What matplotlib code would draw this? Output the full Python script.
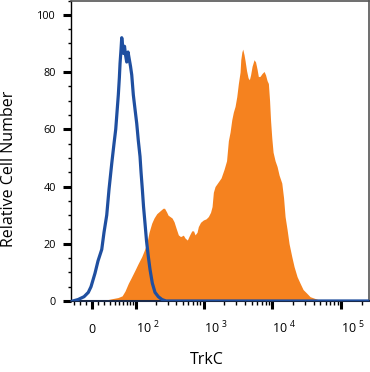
import numpy as np
import matplotlib
matplotlib.use("Agg")
import matplotlib.pyplot as plt
from matplotlib.ticker import FixedLocator

plt.rcParams['font.family'] = ['Open Sans', 'DejaVu Sans']
plt.rcParams['mathtext.fontset'] = 'custom'
plt.rcParams['mathtext.rm'] = 'Open Sans'
plt.rcParams['mathtext.it'] = 'Open Sans'

# ---- data (fluorescence intensity, relative cell number) ----
orange_x = [6.4, 21.6, 34.6, 47.2, 57.0, 64.5, 73.8, 82.0, 95.5, 106.8, 122.1, 132.6, 145.9,
            158.1, 173.7, 188.1, 206.5, 231.2, 256.1, 269.5, 290.4, 303.6, 324.8, 347.5, 371.8,
            397.7, 429.8, 462.8, 508.5, 538.4, 581.6, 626.2, 674.3, 716.1, 753, 805, 841, 906,
            994, 1089, 1176, 1266, 1332, 1391, 1472, 1628, 1800, 1990, 2163, 2298, 2432, 2575,
            2716, 2876, 3044, 3212, 3400, 3480, 3610, 3720, 3886, 4018, 4224, 4442, 4639, 4831,
            5079, 5431, 5710, 6005, 6271, 6638, 7099, 7591, 7982, 8392, 8767, 9126, 9436, 9823,
            10260, 10970, 11730, 12540, 13730, 14580, 15330, 16390, 17530, 19190, 20720, 22910,
            25330, 28000, 31700, 35400, 40460, 46270, 52900]
orange_y = [0, 0.3, 0.8, 1.2, 1.8, 3.5, 6.2, 8, 10.8, 13, 15.5, 17.5, 20, 24, 27.2, 29, 30.5,
            31.5, 32.4, 32.4, 31, 30, 29.5, 29, 27.7, 25.5, 23.1, 22.5, 23, 22, 21.3, 23, 24.5,
            24.5, 23.1, 24, 26, 27.5, 28.3, 28.7, 29.5, 31, 33, 38, 40, 41.5, 43, 46, 49, 56, 59,
            63.3, 66, 68, 71.4, 76, 80, 84.3, 87, 88, 86, 84, 80.5, 78, 77.3, 79, 82, 84.3, 83.5,
            81, 78.4, 78.5, 79.5, 80.2, 79, 77, 76, 70, 63, 57, 52, 49, 47, 44, 41.2, 36, 29.5,
            25, 20, 15.5, 12, 8.5, 6.2, 4, 2.7, 1.5, 1, 0.5, 0]

blue_x = [-33.2, -23.3, -13.0, -6.0, -1.6, 4.8, 9.7, 15.9, 19.8, 24.6, 28.8, 34.0, 38.6, 42.2,
          45.0, 47.9, 50.3, 51.9, 54.3, 56.0, 58.5, 60.5, 63.1, 65.8, 69.1, 72.9, 75.8, 80.4,
          84.3, 89.6, 95.5, 101.8, 107.9, 114.8, 119.1, 124.8, 130.2, 137.4, 144.8, 154.3,
          163.7, 177.4, 194.7, 218.1, 247.5, 283.6, 250000]
blue_y = [0, 0.5, 1.5, 3, 5, 9.7, 14, 18, 24, 30, 39, 48, 55, 60, 66, 72, 78, 83, 88, 92, 89,
          86.5, 89, 86, 83.5, 87, 85, 82, 79, 72, 67, 62, 56, 50.5, 45, 39, 33, 27, 21, 15.5,
          11, 6.2, 3, 1.5, 0.5, 0, 0]

x_major = [0, 1e2, 1e3, 1e4, 1e5]
x_major_labels = ['0', r'$\mathregular{10^{\ 2}}$', r'$\mathregular{10^{\ 3}}$',
                  r'$\mathregular{10^{\ 4}}$', r'$\mathregular{10^{\ 5}}$']
x_minor = [-30, -20, -10, 10, 20, 30, 40, 50, 60, 70, 80, 90,
           200, 300, 400, 500, 600, 700, 800, 900,
           2000, 3000, 4000, 5000, 6000, 7000, 8000, 9000,
           20000, 30000, 40000, 50000, 60000, 70000, 80000, 90000, 200000]
y_major = [0, 20, 40, 60, 80, 100]
y_minor = [5, 10, 15, 25, 30, 35, 45, 50, 55, 65, 70, 75, 85, 90, 95, 105]

ORANGE = '#F5821F'
BLUE = '#1F4FA0'

W = 48.0
def fwd(x):
    return np.arcsinh(np.asarray(x, dtype=float) / W) / np.log(10)
def inv(y):
    return W * np.sinh(np.asarray(y, dtype=float) * np.log(10))

fig = plt.figure(figsize=(3.70, 3.72), dpi=100)
ax = fig.add_axes([71/370, 71/372, 298/370, 300.5/372])
ax.set_xscale('function', functions=(fwd, inv))

ax.fill_between(orange_x, orange_y, 0, color=ORANGE, lw=0, zorder=2)
ax.plot(blue_x, blue_y, color=BLUE, lw=2.3, zorder=3, solid_joinstyle='round')

ax.set_xlim(-36.6, 2.54e5)
ax.set_ylim(0, 105)

ax.xaxis.set_major_locator(FixedLocator(x_major))
ax.xaxis.set_minor_locator(FixedLocator(x_minor))
ax.set_xticklabels(x_major_labels)
ax.yaxis.set_major_locator(FixedLocator(y_major))
ax.yaxis.set_minor_locator(FixedLocator(y_minor))
ax.set_yticklabels([str(v) for v in y_major])

ax.tick_params(axis='y', which='major', direction='out', length=5.5, width=2.2,
               labelsize=7.8, pad=5.5, color='black')
ax.tick_params(axis='y', which='minor', direction='out', length=2.5, width=1.0, color='black')
ax.tick_params(axis='x', which='major', direction='out', length=6, width=2.2,
               labelsize=9, pad=17, color='black')
ax.tick_params(axis='x', which='minor', direction='out', length=3, width=1.0, color='black')

for t in ax.xaxis.get_major_ticks():
    t.label1.set_verticalalignment('baseline')
for t, lab in zip(ax.xaxis.get_major_ticks(), x_major_labels):
    if lab != '0':
        t.label1.set_horizontalalignment('left')

for side in ['top', 'right']:
    ax.spines[side].set_color('#555555')
    ax.spines[side].set_linewidth(1.2)
ax.spines['left'].set_color('black')
ax.spines['left'].set_linewidth(1.0)
ax.spines['bottom'].set_color('#1a2a4a')
ax.spines['bottom'].set_linewidth(1.5)

ax.set_ylabel('Relative Cell Number', fontsize=11.5, va='center')
ax.yaxis.set_label_coords(-0.207, 0.441)
ax.set_xlabel('TrkC', fontsize=11.5, va='center')
ax.xaxis.set_label_coords(0.455, -0.196)

fig.savefig('out.png', dpi=100)
